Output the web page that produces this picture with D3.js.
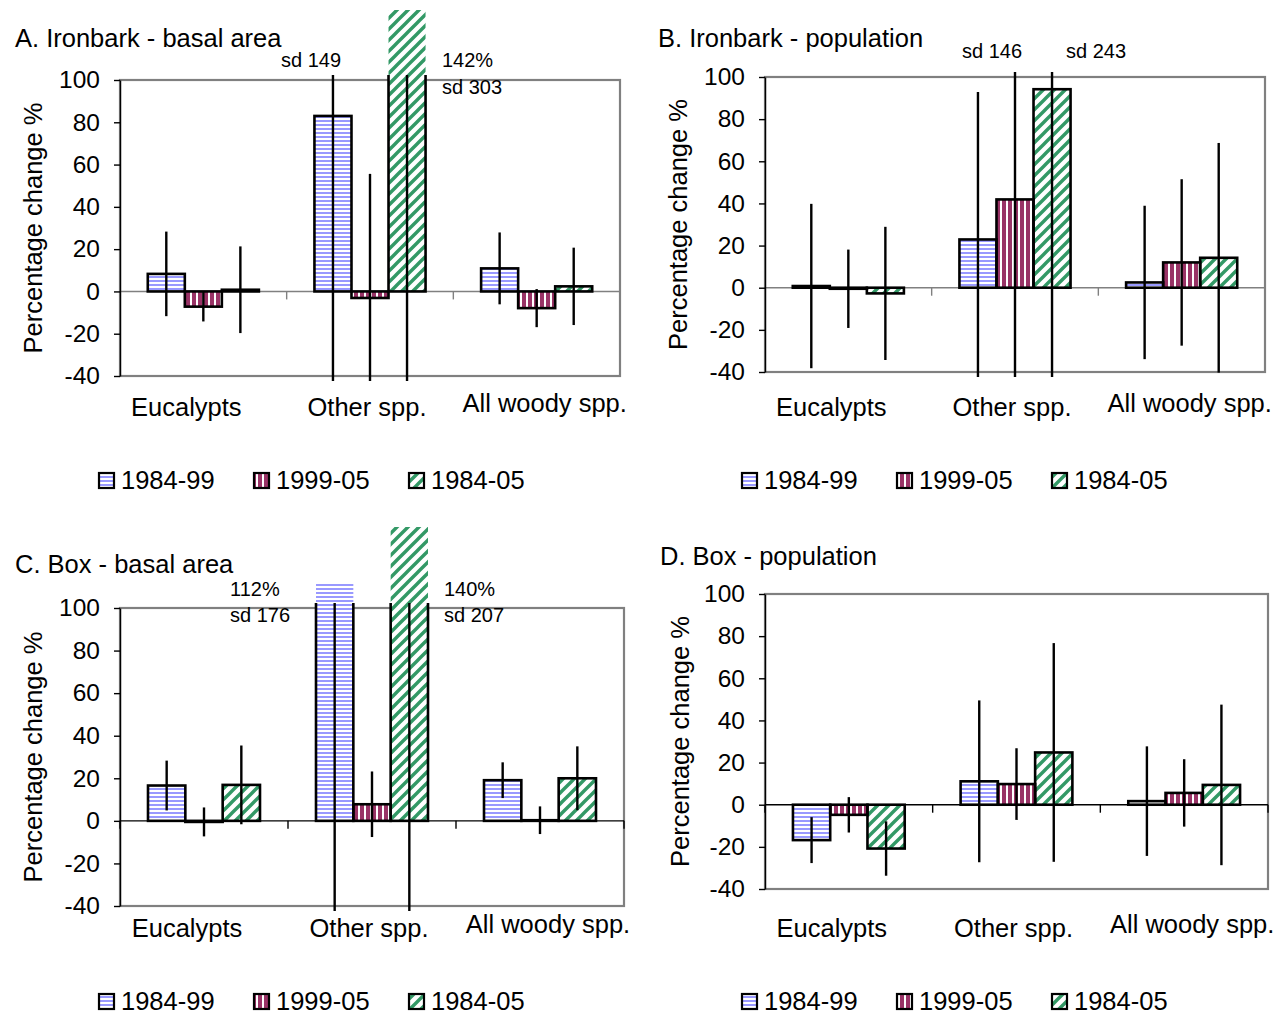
<!DOCTYPE html>
<html>
<head>
<meta charset="utf-8">
<script src="https://cdn.jsdelivr.net/npm/d3@7"></script>
<style>
  html, body { margin: 0; padding: 0; background: #fff; }
  svg { display: block; font-family: "Liberation Sans", Arial, sans-serif; }
</style>
</head>
<body>
<svg id="chart" width="1275" height="1015"></svg>
<script>
// ---------------- DATA ----------------
const categories = ["Eucalypts", "Other spp.", "All woody spp."];
const seriesNames = ["1984-99", "1999-05", "1984-05"];
const yTicks = [-40, -20, 0, 20, 40, 60, 80, 100];

// rows = series (1984-99, 1999-05, 1984-05), columns = categories
const ironbarkBasalMeans = [[8.3, 83, 10.9], [-7.2, -3.1, -7.9], [0.8, 142, 2.4]];
const ironbarkBasalSds   = [[20, 149, 17], [7, 58.7, 9], [20.5, 303, 18.3]];

const ironbarkPopMeans = [[0.8, 22.9, 2.5], [-0.5, 41.9, 12], [-2.7, 94.2, 14.2]];
const ironbarkPopSds   = [[39, 70, 36.4], [18.6, 146, 39.5], [31.6, 243, 54.5]];

const boxBasalMeans = [[16.6, 112, 19.1], [-0.5, 7.8, 0.3], [16.9, 140, 20]];
const boxBasalSds   = [[11.7, 176, 8.4], [6.8, 15.4, 6.5], [18.5, 207, 15]];

const boxPopMeans = [[-16.8, 11.1, 1.7], [-4.8, 9.8, 5.6], [-20.8, 24.8, 9.4]];
const boxPopSds   = [[10.9, 38.4, 26], [8.4, 17, 16], [12.9, 51.9, 38.1]];

const titles = ["A. Ironbark - basal area", "B. Ironbark - population", "C. Box - basal area", "D. Box - population"];
const yAxisTitle = "Percentage change %";

// annotation texts for off-scale values
const annoA = ["sd 149", "142%", "sd 303"];
const annoB = ["sd 146", "sd 243"];
const annoC = ["112%", "sd 176", "140%", "sd 207"];

// ---------------- LAYOUT ----------------
const panels = [
  { means: ironbarkBasalMeans, sds: ironbarkBasalSds, title: titles[0], left: 120, right: 620, top: 80, bottom: 376,
    fillTop: 10, titleX: 15, titleY: 38, yTitleX: 33, catY: 407, legY: 480, legX: [98, 253, 408], zeroColor: "#808080" },
  { means: ironbarkPopMeans, sds: ironbarkPopSds, title: titles[1], left: 765, right: 1265, top: 77, bottom: 372,
    fillTop: 0, titleX: 658, titleY: 38, yTitleX: 678, catY: 407, legY: 480, legX: [741, 896, 1051], zeroColor: "#808080" },
  { means: boxBasalMeans, sds: boxBasalSds, title: titles[2], left: 120, right: 624, top: 608, bottom: 906,
    fillTop: 527, titleX: 15, titleY: 564, yTitleX: 33, catY: 928, legY: 1001, legX: [98, 253, 408], zeroColor: "#000" },
  { means: boxPopMeans, sds: boxPopSds, title: titles[3], left: 765, right: 1268, top: 594, bottom: 889,
    fillTop: 0, titleX: 660, titleY: 556, yTitleX: 680, catY: 928, legY: 1001, legX: [741, 896, 1051], zeroColor: "#000" }
];

const catOffsets = [-17, -3, 8];
const catDy = [0, 0, -4];
const FONT = 25.5;
const TICKFONT = 24.5;

const svg = d3.select("#chart");
const defs = svg.append("defs");

// patterns
const pH = defs.append("pattern").attr("id", "pat0").attr("patternUnits", "userSpaceOnUse")
  .attr("width", 4).attr("height", 4);
pH.append("rect").attr("width", 4).attr("height", 4).attr("fill", "#fff");
pH.append("rect").attr("width", 4).attr("height", 2).attr("fill", "#9999ff");

const pV = defs.append("pattern").attr("id", "pat1").attr("patternUnits", "userSpaceOnUse")
  .attr("width", 6).attr("height", 6);
pV.append("rect").attr("width", 6).attr("height", 6).attr("fill", "#fff");
pV.append("rect").attr("width", 4).attr("height", 6).attr("fill", "#993366");

const pD = defs.append("pattern").attr("id", "pat2").attr("patternUnits", "userSpaceOnUse")
  .attr("width", 11).attr("height", 11);
pD.append("rect").attr("width", 11).attr("height", 11).attr("fill", "#fff");
pD.append("path").attr("d", "M-3,3 L3,-3 M0,11 L11,0 M8,14 L14,8")
  .attr("stroke", "#339966").attr("stroke-width", 3.4);

const fills = ["url(#pat0)", "url(#pat1)", "url(#pat2)"];

panels.forEach((p, pi) => {
  const g = svg.append("g");
  const x0 = d3.scaleBand().domain(categories).range([p.left, p.right]).paddingInner(0).paddingOuter(0);
  const x1 = d3.scaleBand().domain(seriesNames).range([0, x0.bandwidth()]).paddingInner(0).paddingOuter(0.75);
  const y = d3.scaleLinear().domain([-40, 100]).range([p.bottom, p.top]);

  // clip paths
  defs.append("clipPath").attr("id", "cf" + pi).append("rect")
    .attr("x", p.left - 2).attr("y", p.fillTop).attr("width", p.right - p.left + 4).attr("height", p.bottom + 5 - p.fillTop);
  defs.append("clipPath").attr("id", "cl" + pi).append("rect")
    .attr("x", p.left - 2).attr("y", p.top - 5).attr("width", p.right - p.left + 4).attr("height", p.bottom - p.top + 10);

  // plot border
  g.append("rect").attr("x", p.left).attr("y", p.top).attr("width", p.right - p.left).attr("height", p.bottom - p.top)
    .attr("fill", "none").attr("stroke", "#808080").attr("stroke-width", 2.2);

  // zero line
  g.append("line").attr("x1", p.left).attr("x2", p.right).attr("y1", y(0)).attr("y2", y(0))
    .attr("stroke", p.zeroColor).attr("stroke-width", 1.4);
  // category ticks
  const bounds = [p.left].concat(categories.map(c => x0(c) + x0.bandwidth()));
  g.selectAll(".ctick").data(bounds).join("line")
    .attr("x1", d => d).attr("x2", d => d).attr("y1", y(0)).attr("y2", y(0) + 8)
    .attr("stroke", p.zeroColor).attr("stroke-width", 1.4);

  // bars
  const barData = [];
  seriesNames.forEach((s, si) => categories.forEach((c, ci) => {
    barData.push({ s, si, c, ci, v: p.means[si][ci], sd: p.sds[si][ci] });
  }));
  const bx = d => x0(d.c) + x1(d.s);
  const by = d => y(Math.max(0, d.v));
  const bh = d => Math.abs(y(d.v) - y(0));

  g.append("g").attr("clip-path", "url(#cf" + pi + ")")
    .selectAll("rect").data(barData).join("rect")
    .attr("x", bx).attr("y", by).attr("width", x1.bandwidth()).attr("height", bh)
    .attr("fill", d => fills[d.si]);
  g.append("g").attr("clip-path", "url(#cl" + pi + ")")
    .selectAll("rect").data(barData).join("rect")
    .attr("x", bx).attr("y", by).attr("width", x1.bandwidth()).attr("height", d => Math.max(bh(d), 0.5))
    .attr("fill", "none").attr("stroke", "#000").attr("stroke-width", 2.6);
  // error bars
  g.append("g").attr("clip-path", "url(#cl" + pi + ")")
    .selectAll("line").data(barData).join("line")
    .attr("x1", d => bx(d) + x1.bandwidth() / 2).attr("x2", d => bx(d) + x1.bandwidth() / 2)
    .attr("y1", d => y(d.v + d.sd)).attr("y2", d => y(d.v - d.sd))
    .attr("stroke", "#000").attr("stroke-width", 2.4);

  // y axis
  const ax = g.append("g").attr("transform", `translate(${p.left},0)`)
    .call(d3.axisLeft(y).tickValues(yTicks).tickFormat(d => String(d)).tickSize(6).tickSizeOuter(0).tickPadding(14));
  ax.select(".domain").attr("stroke", "#000").attr("stroke-width", 1.4);
  ax.selectAll(".tick line").attr("stroke", "#000").attr("stroke-width", 1.4);
  ax.selectAll(".tick text").attr("font-size", TICKFONT).attr("font-family", "Liberation Sans, Arial, sans-serif").attr("fill", "#000");

  // category labels
  g.selectAll(".clab").data(categories).join("text")
    .attr("x", (c, i) => x0(c) + x0.bandwidth() / 2 + catOffsets[i])
    .attr("y", (c, i) => p.catY + catDy[i])
    .attr("text-anchor", "middle").attr("dominant-baseline", "central")
    .attr("font-size", FONT).text(c => c);

  // title
  g.append("text").attr("x", p.titleX).attr("y", p.titleY).attr("dominant-baseline", "central")
    .attr("font-size", FONT).text(p.title);

  // y axis title
  g.append("text").attr("transform", `translate(${p.yTitleX},${(p.top + p.bottom) / 2}) rotate(-90)`)
    .attr("text-anchor", "middle").attr("dominant-baseline", "central")
    .attr("font-size", FONT).text(yAxisTitle);

  // legend
  seriesNames.forEach((s, si) => {
    const lx = p.legX[si];
    g.append("rect").attr("x", lx + 1).attr("y", p.legY - 7).attr("width", 15).attr("height", 15)
      .attr("fill", fills[si]).attr("stroke", "#000").attr("stroke-width", 2.2);
    g.append("text").attr("x", lx + 23).attr("y", p.legY).attr("dominant-baseline", "central")
      .attr("font-size", FONT).text(s);
  });
});

// annotations
const annoStyle = sel => sel.attr("font-size", 20).attr("dominant-baseline", "central");
svg.append("text").call(annoStyle).attr("x", 311).attr("y", 60).attr("text-anchor", "middle").text(annoA[0]);
svg.append("text").call(annoStyle).attr("x", 442).attr("y", 60).text(annoA[1]);
svg.append("text").call(annoStyle).attr("x", 442).attr("y", 87).text(annoA[2]);
svg.append("text").call(annoStyle).attr("x", 992).attr("y", 51).attr("text-anchor", "middle").text(annoB[0]);
svg.append("text").call(annoStyle).attr("x", 1096).attr("y", 51).attr("text-anchor", "middle").text(annoB[1]);
svg.append("text").call(annoStyle).attr("x", 230).attr("y", 589).text(annoC[0]);
svg.append("text").call(annoStyle).attr("x", 230).attr("y", 615).text(annoC[1]);
svg.append("text").call(annoStyle).attr("x", 444).attr("y", 589).text(annoC[2]);
svg.append("text").call(annoStyle).attr("x", 444).attr("y", 615).text(annoC[3]);
</script>
</body>
</html>
